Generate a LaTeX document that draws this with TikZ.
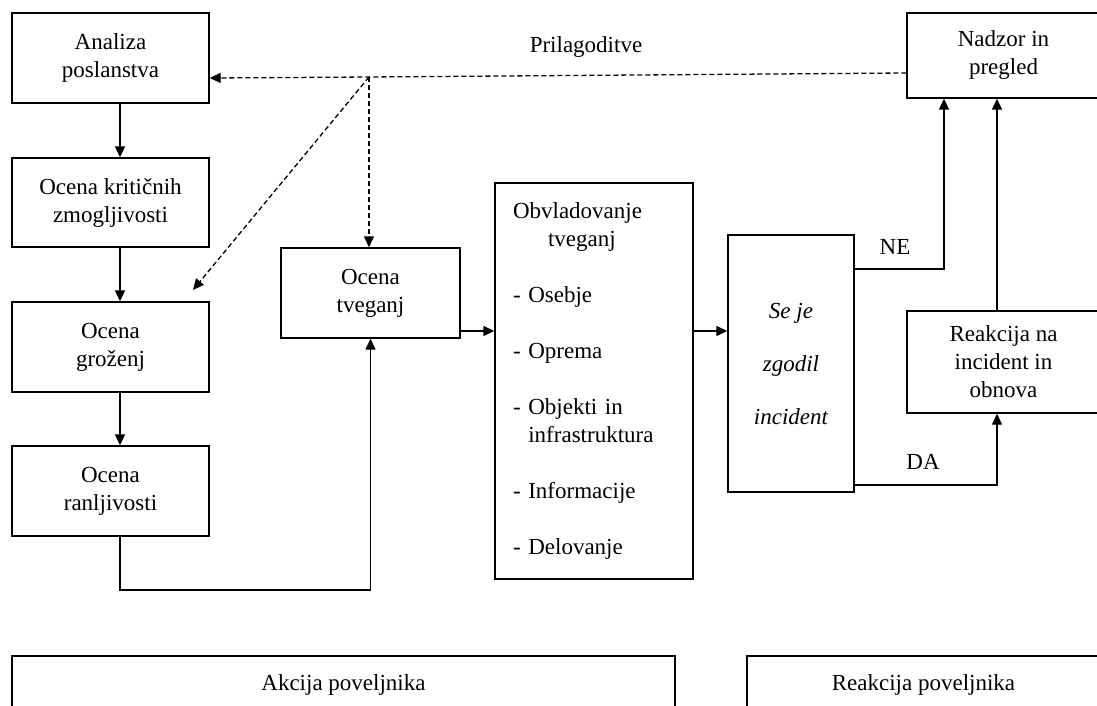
\documentclass[tikz,border=0pt]{standalone}
\usepackage{fontspec}
\setmainfont{Liberation Serif}
\usetikzlibrary{arrows.meta}
\begin{document}
\begin{tikzpicture}[x=1pt,y=-1pt,
  every node/.style={font=\fontsize{23}{28}\selectfont},
  box/.style={draw, line width=1.4pt, inner sep=0pt, align=center},
  arr/.style={line width=1.4pt, -{Triangle[length=11pt,width=10pt]}},
  dsh/.style={line width=1.3pt, dash pattern=on 5pt off 3pt, -{Triangle[length=11pt,width=10pt]}},
  lbl/.style={inner sep=0pt}]
\useasboundingbox (0,0) rectangle (1097,706);
\fill[white] (0,0) rectangle (1097,706);
\clip (0,0) rectangle (1097,706);

% left column
\node[box, minimum width=197pt, minimum height=90pt] (ana) at (110.5,58) {Analiza\\poslanstva};
\node[box, minimum width=197pt, minimum height=89pt] (krit) at (110.5,202.5) {Ocena kritičnih\\zmogljivosti};
\node[box, minimum width=197pt, minimum height=90pt] (groz) at (110.5,347) {Ocena\\groženj};
\node[box, minimum width=197pt, minimum height=90pt] (ranl) at (110.5,491) {Ocena\\ranljivosti};

% middle
\node[box, minimum width=179pt, minimum height=90pt] (tveg) at (370.5,293) {Ocena\\tveganj};
\node[box, minimum width=198pt, minimum height=396pt, text width=162pt, inner xsep=18pt, align=left] (obv) at (594,381)
  {Obvladovanje\\\hspace*{35pt}tveganj\\[28pt]- Osebje\\[28pt]- Oprema\\[28pt]- Objekti in\\\phantom{- }infrastruktura\\[28pt]- Informacije\\[28pt]- Delovanje};
\node[box, minimum width=126pt, minimum height=257pt, font=\fontsize{23}{28}\selectfont\itshape] (inc) at (791,363.5)
  {Se je\\[25pt]zgodil\\[25pt]incident};

% right
\node[box, minimum width=193pt, minimum height=85pt] (nad) at (1003.5,55.5) {Nadzor in\\pregled};
\node[box, minimum width=193pt, minimum height=102pt] (reak) at (1003.5,362) {Reakcija na\\incident in\\obnova};

% bottom
\node[box, minimum width=663pt, minimum height=58pt] (akc) at (343.5,685) {Akcija poveljnika};
\node[box, minimum width=353pt, minimum height=58pt] (rpov) at (923.5,685) {Reakcija poveljnika};

% labels
\node[lbl] (pril) at (586,47) {Prilagoditve};
\node[lbl] (ne) at (895,247) {NE};
\node[lbl] (da) at (923,462) {DA};

% solid connectors
\draw[arr] ([xshift=9.5pt]ana.south) -- ([xshift=9.5pt]krit.north);
\draw[arr] ([xshift=9.5pt]krit.south) -- ([xshift=9.5pt]groz.north);
\draw[arr] ([xshift=9.5pt]groz.south) -- ([xshift=9.5pt]ranl.north);
\draw[arr] ([xshift=9.5pt]ranl.south) -- (120,590) -| (tveg.south);
\draw[arr] (tveg.east |- 0,331) -- (obv.west |- 0,331);
\draw[arr] (obv.east |- 0,331) -- (inc.west |- 0,331);
\draw[arr] (inc.east |- 0,269) -| ([xshift=-59.5pt]nad.south);
\draw[arr] ([xshift=-6.5pt]reak.north) -- ([xshift=-6.5pt]nad.south);
\draw[arr] (inc.east |- 0,485) -| ([xshift=-6.5pt]reak.south);

% dashed connectors
\coordinate (j) at (369,77);
\coordinate (dg) at (193,290);
\draw[dsh] (nad.west |- 0,73) -- (j) -- (ana.east |- 0,78);
\draw[dsh] (j) -- (j |- tveg.north);
\draw[dsh] (j) -- (dg);
\end{tikzpicture}
\end{document}
